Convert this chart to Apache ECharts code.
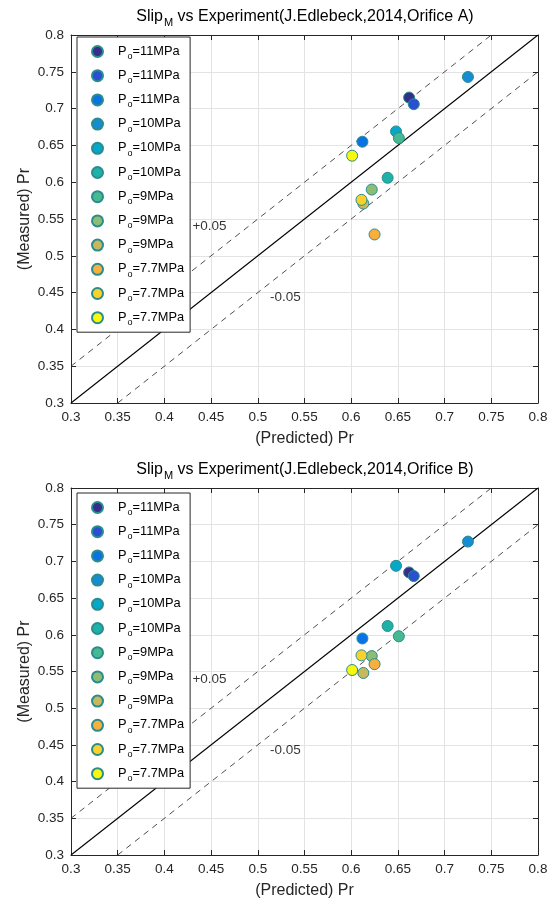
<!DOCTYPE html>
<html>
<head>
<meta charset="utf-8">
<title>Slip_M vs Experiment</title>
<script src="https://cdn.jsdelivr.net/npm/echarts@6/dist/echarts.min.js"></script>
<style>
  html, body { margin: 0; padding: 0; background: #fff; }
  #chart { width: 555px; height: 904px; }
</style>
</head>
<body>
<div id="chart"></div>
<script>
// run pressures (legend order, same for both orifices)
const pressures = ['11', '11', '11', '10', '10', '10', '9', '9', '9', '7.7', '7.7', '7.7'];
const runColors = ['#352f8c', '#2a4fd2', '#0a73e4', '#168cd2', '#06a7c8', '#1eb1a8',
  '#45b991', '#8dbd75', '#c5b85f', '#f7b03f', '#f8d12a', '#f8f80f'];

// Orifice A
const predictedA = [0.662, 0.667, 0.612, 0.725, 0.648, 0.639, 0.651, 0.622, 0.613, 0.625, 0.611, 0.601];
const measuredA = [0.715, 0.706, 0.655, 0.743, 0.669, 0.606, 0.660, 0.590, 0.571, 0.529, 0.576, 0.636];

// Orifice B
const predictedB = [0.662, 0.667, 0.612, 0.725, 0.648, 0.639, 0.651, 0.622, 0.613, 0.625, 0.611, 0.601];
const measuredB = [0.685, 0.680, 0.595, 0.727, 0.694, 0.612, 0.598, 0.571, 0.548, 0.560, 0.572, 0.552];

// axis range
const axisMin = 0.3;
const axisMax = 0.8;
const axisStep = 0.05;

// parity line and +/-0.05 band
const parityLine = [[0.3, 0.3], [0.8, 0.8]];
const upperBand = [[0.3, 0.35], [0.75, 0.8]];
const lowerBand = [[0.35, 0.3], [0.8, 0.75]];
const bandNotes = ['+0.05', '-0.05'];
const bandNotePos = [[0.43, 0.54], [0.513, 0.443]];

const FONT = 'Liberation Sans, Arial, sans-serif';
const INK = '#262626';

const chart = echarts.init(document.getElementById('chart'));

function axisPair(gridIndex, isX, name) {
  const common = {
    gridIndex: gridIndex,
    type: 'value',
    min: axisMin,
    max: axisMax,
    interval: axisStep,
    axisLine: { show: true, onZero: false, lineStyle: { color: INK, width: 1 } },
    axisTick: { show: true, inside: true, length: 5, lineStyle: { color: INK } }
  };
  const main = Object.assign({}, common, {
    position: isX ? 'bottom' : 'left',
    name: name,
    nameLocation: 'middle',
    nameGap: isX ? 28 : 38,
    nameMoveOverlap: false,
    nameTextStyle: { color: INK, fontSize: 16, fontFamily: FONT },
    axisLabel: { color: INK, fontSize: 13.5, fontFamily: FONT, margin: 7 },
    splitLine: { show: true, lineStyle: { color: '#e3e3e3', width: 1 } }
  });
  const mirror = Object.assign({}, common, {
    position: isX ? 'top' : 'right',
    axisLabel: { show: false },
    splitLine: { show: false }
  });
  return [main, mirror];
}

function titleText(orifice) {
  return '{a|Slip}{b|M}{a| vs Experiment(J.Edlebeck,2014,Orifice ' + orifice + ')}';
}

const titleRich = {
  a: { fontSize: 16, lineHeight: 18, verticalAlign: 'top', fontWeight: 'normal', color: '#000', fontFamily: FONT },
  b: { fontSize: 11, lineHeight: 13, padding: [9, 0, 0, 1], fontWeight: 'normal', color: '#000', fontFamily: FONT }
};

const legendRich = {
  s: { width: 10, lineHeight: 14, verticalAlign: 'top' },
  a: { fontSize: 12.8, lineHeight: 14, verticalAlign: 'top', color: '#000', fontFamily: FONT },
  b: { fontSize: 9, lineHeight: 11, padding: [10, 0, 0, 1], color: '#000', fontFamily: FONT }
};

function plotSeries(tag, axisIdx, predicted, measured) {
  const list = [];
  const lines = [
    { data: parityLine, type: 'solid', color: '#000', width: 1.1 },
    { data: upperBand, type: [6, 5], color: '#222', width: 0.8 },
    { data: lowerBand, type: [6, 5], color: '#222', width: 0.8 }
  ];
  lines.forEach(function (l) {
    list.push({
      type: 'line',
      xAxisIndex: axisIdx,
      yAxisIndex: axisIdx,
      data: l.data,
      symbol: 'none',
      silent: true,
      z: 1,
      lineStyle: { color: l.color, width: l.width, type: l.type }
    });
  });
  list.push({
    type: 'scatter',
    xAxisIndex: axisIdx,
    yAxisIndex: axisIdx,
    data: bandNotePos,
    symbolSize: 0,
    silent: true,
    z: 2,
    label: {
      show: true,
      position: 'right',
      distance: 0,
      color: '#000',
      fontSize: 13.5,
      fontFamily: FONT,
      formatter: function (p) { return bandNotes[p.dataIndex]; }
    }
  });
  predicted.forEach(function (x, i) {
    list.push({
      name: tag + i,
      type: 'scatter',
      xAxisIndex: axisIdx,
      yAxisIndex: axisIdx,
      data: [[x, measured[i]]],
      symbolSize: 11,
      z: 3,
      itemStyle: { color: runColors[i], borderColor: '#2a8c8c', borderWidth: 1, opacity: 1 }
    });
  });
  return list;
}

function legendFor(tag, top) {
  return {
    orient: 'vertical',
    left: 77,
    top: top,
    padding: [5, 6, 5, 14],
    itemWidth: 11,
    itemHeight: 11,
    itemGap: 5.2,
    icon: 'circle',
    selectedMode: false,
    backgroundColor: '#fff',
    borderColor: INK,
    borderWidth: 1,
    data: pressures.map(function (p, i) { return tag + i; }),
    formatter: function (name) {
      const i = +name.slice(1);
      return '{s| }{a|P}{b|o}{a|=' + pressures[i] + 'MPa}';
    },
    textStyle: { rich: legendRich }
  };
}

const xA = axisPair(0, true, '(Predicted) Pr');
const yA = axisPair(0, false, '(Measured) Pr');
const xB = axisPair(1, true, '(Predicted) Pr');
const yB = axisPair(1, false, '(Measured) Pr');

chart.setOption({
  backgroundColor: '#fff',
  animation: false,
  title: [
    { text: titleText('A'), left: 305, top: 9, padding: 0, textAlign: 'center', textStyle: { fontWeight: 'normal', rich: titleRich } },
    { text: titleText('B'), left: 305, top: 462, padding: 0, textAlign: 'center', textStyle: { fontWeight: 'normal', rich: titleRich } }
  ],
  grid: [
    { left: 71, top: 35, width: 467, height: 368 },
    { left: 71, top: 488, width: 467, height: 367 }
  ],
  // index 0 = orifice A, 1 = orifice B, 2/3 = mirrored top/right frame
  xAxis: [xA[0], xB[0], xA[1], xB[1]],
  yAxis: [yA[0], yB[0], yA[1], yB[1]],
  legend: [legendFor('a', 37), legendFor('b', 493)],
  series: plotSeries('a', 0, predictedA, measuredA).concat(plotSeries('b', 1, predictedB, measuredB))
});
</script>
</body>
</html>
